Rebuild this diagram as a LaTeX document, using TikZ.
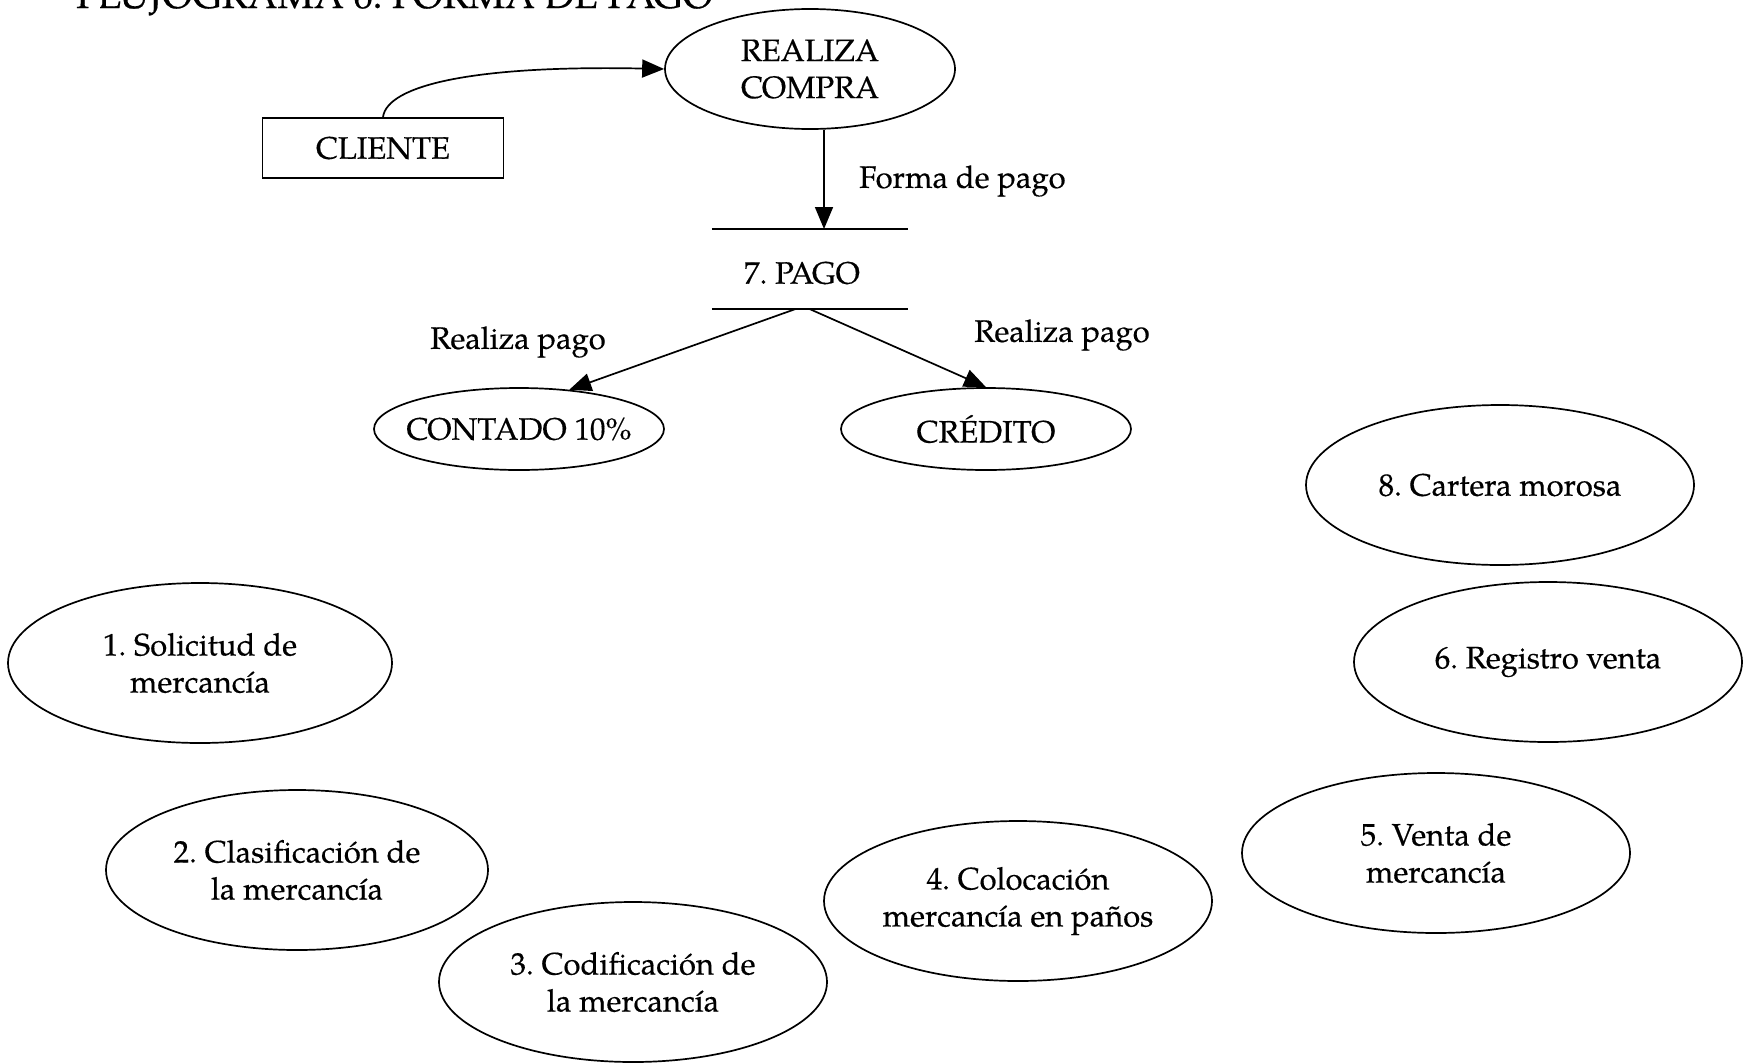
\documentclass[tikz,border=0pt]{standalone}
\usepackage{fontspec}
\setmainfont[FakeBold=0.4]{TeX Gyre Pagella}
\usetikzlibrary{arrows.meta,shapes.geometric}
\newcommand\diagfont{\fontsize{31}{37}\selectfont\frenchspacing}
\newcommand\headfont{\fontsize{38.5}{40}\selectfont\frenchspacing}
\begin{document}
\begin{tikzpicture}[x=1pt,y=-1pt,
  proc/.style={ellipse, draw, line width=1.7pt, inner sep=0pt, align=center, font=\diagfont,
               minimum width=388pt, minimum height=160pt},
  small/.style={ellipse, draw, line width=1.7pt, inner xsep=-30pt, inner ysep=0pt, align=center, font=\diagfont,
               minimum width=290pt, minimum height=82pt},
  entity/.style={rectangle, draw, line width=1.7pt, inner sep=0pt, font=\diagfont,
               minimum width=241pt, minimum height=60pt},
  lbl/.style={font=\diagfont, inner sep=0pt},
  arr/.style={line width=1.7pt, -{Triangle[length=22pt,width=18pt]}}]
\useasboundingbox (0,0) rectangle (1744,1063);
\fill[white] (0,0) rectangle (1744,1063);
\begin{scope}
\clip (0,0) rectangle (1744,1063);
\node[anchor=base west, font=\headfont, inner sep=0pt] (title) at (76,8) {FLUJOGRAMA 6. FORMA DE PAGO};
\end{scope}

% top part
\node[ellipse, draw, line width=1.7pt, inner sep=0pt, align=center, font=\diagfont,
      minimum width=290pt, minimum height=120pt] (compra) at (810,69) {REALIZA\\COMPRA};
\node[entity] (cliente) at (383,148) {CLIENTE};
\draw[arr] (cliente.north) .. controls +(4,-32) and +(-190,-4) .. (compra.west);

\node[minimum width=196pt, minimum height=80pt, inner sep=0pt] (pago) at (810,269) {};
\node[lbl] (pagotxt) at (802,273) {7. PAGO};
\draw[line width=1.7pt] (pago.north west) -- (pago.north east);
\draw[line width=1.7pt] (pago.south west) -- (pago.south east);
\draw[arr] (compra.south -| 824,0) -- (824,229);
\node[lbl, anchor=west] (forma) at (859,181) {Forma de pago};

\node[small] (contado) at (519,429) {CONTADO 10\%};
\node[small] (credito) at (986,429) {CRÉDITO};
\draw[arr] ([xshift=-15pt]pago.south) -- (contado.38);
\draw[arr] (pago.south) -- (credito.north);
\node[lbl] (rp1) at (518,342) {Realiza pago};
\node[lbl] (rp2) at (1062,335) {Realiza pago};

% processes
\node[proc] (p8) at (1500,485) {8. Cartera morosa};
\node[proc] (p6) at (1548,662) {6. Registro venta};
\node[proc, minimum width=384pt] (p1) at (200,663) {1. Solicitud de\\mercancía};
\node[proc, minimum width=382pt] (p2) at (297,870) {2. Clasificación de\\la mercancía};
\node[proc] (p3) at (633,982) {3. Codificación de\\la mercancía};
\node[proc] (p4) at (1018,901) {4. Colocación\\mercancía en paños};
\node[proc] (p5) at (1436,853) {5. Venta de\\mercancía};
\end{tikzpicture}
\end{document}
